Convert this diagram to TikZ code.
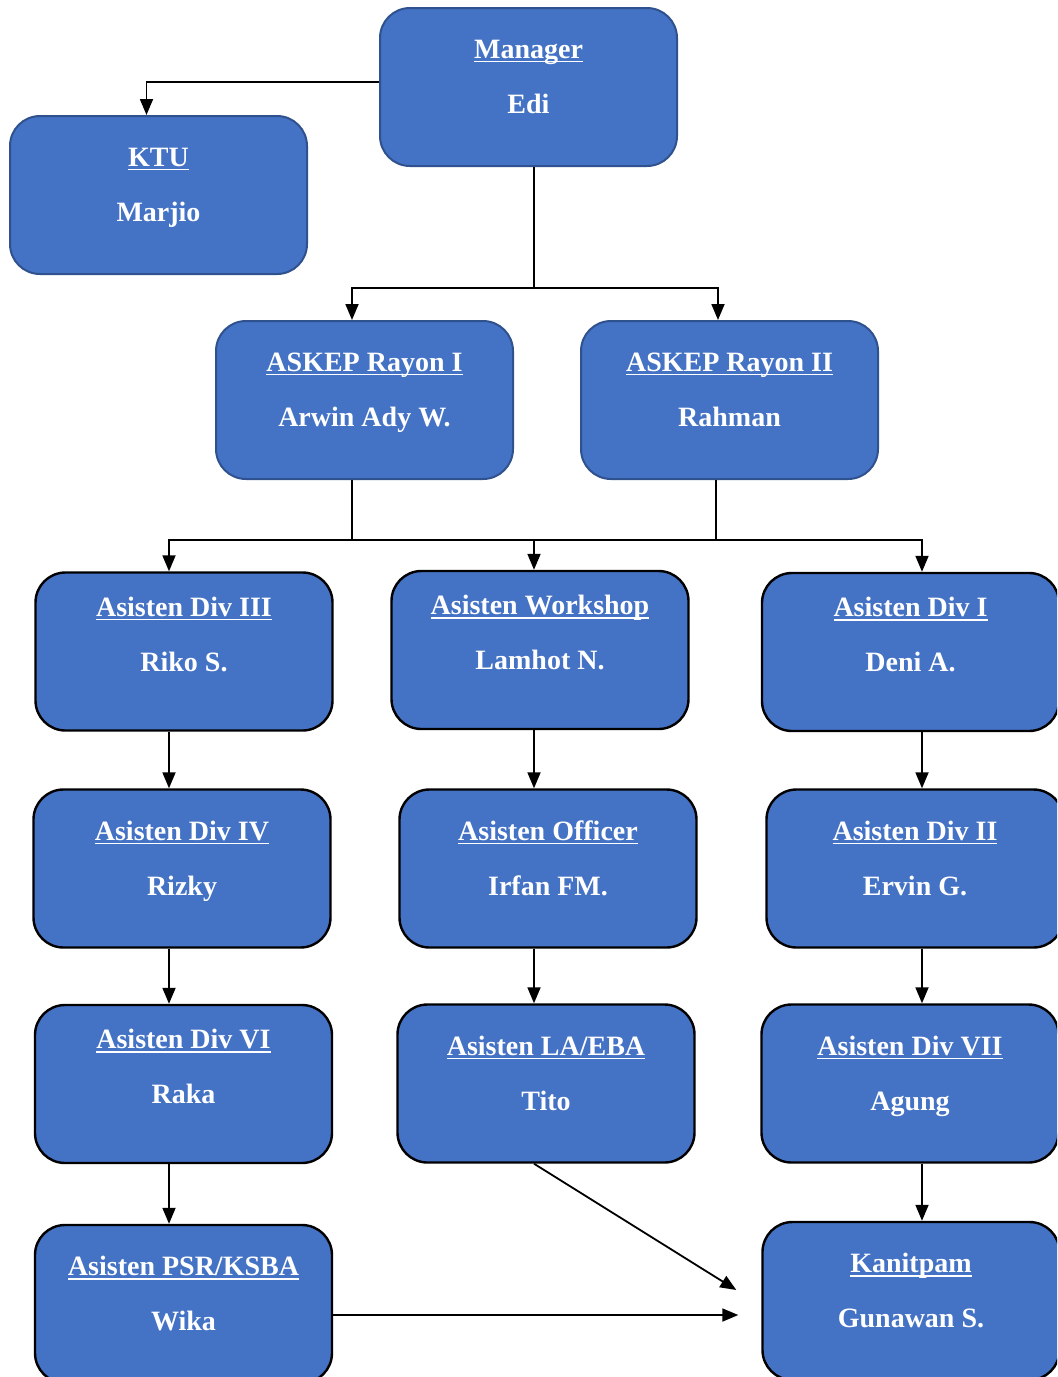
\documentclass[tikz,border=0pt]{standalone}
\usepackage{fontspec}
\setmainfont{Liberation Serif}
\usetikzlibrary{arrows.meta,positioning,calc}
\definecolor{boxblue}{HTML}{4472C4}
\definecolor{rimblue}{HTML}{2F528F}
\tikzset{
  unit/.style    = { draw=black, line width=1.2pt, fill=boxblue, rounded corners=15pt,
    minimum width=148.5pt, minimum height=79pt, inner sep=0pt },
  topunit/.style = { unit, draw=rimblue, line width=1pt },
  unittxt/.style = { text=white, align=center, yshift=5.25pt,
    font=\fontsize{14}{27.5}\selectfont\bfseries },
  raised/.style  = { yshift=3.5pt },% adds to the shift above
  ln/.style      = { line width=0.8pt },
  arr/.style     = { line width=0.9pt, -{Triangle[length=8pt,width=6.5pt]} }
}
% fixed underline, as in a word processor
\newcommand{\uln}[1]{\setbox0\hbox{#1}\rlap{\rule[-2pt]{\wd0}{0.7pt}}\box0}
% box + its two lines of text
\newcommand{\orgbox}[7][]{%
  \node[#2] (#3) at (#4,#5) {};
  \node[unittxt,#1] (#3-t) at (#3.center) {\uln{#6}\\\raisebox{0pt}[\height][0pt]{#7}};
}

\begin{document}
\begin{tikzpicture}[x=0.5pt,y=-0.5pt]
  \useasboundingbox (0,0) rectangle (1057,1377);
  \clip (0,0) rectangle (1057,1377);
  % top
  \orgbox{topunit}{mgr}{528.5}{87}{Manager}{Edi}
  \orgbox{topunit}{ktu}{158.5}{195}{KTU}{Marjio}
  \orgbox{topunit}{ask1}{364.5}{400}{ASKEP Rayon I}{Arwin Ady W.}
  \orgbox{topunit}{ask2}{729.5}{400}{ASKEP Rayon II}{Rahman}
  % left column
  \orgbox[raised]{unit}{div3}{184}{651.5}{Asisten Div III}{Riko S.}
  \orgbox{unit}{div4}{182}{868.5}{Asisten Div IV}{Rizky}
  \orgbox[raised]{unit}{div6}{183.5}{1084}{Asisten Div VI}{Raka}
  \orgbox{unit}{psr}{183.5}{1304}{Asisten PSR/KSBA}{Wika}
  % middle column
  \orgbox[raised]{unit}{wks}{540}{650}{Asisten Workshop}{Lamhot N.}
  \orgbox{unit}{off}{548}{868.5}{Asisten Officer}{Irfan FM.}
  \orgbox{unit}{laeba}{546}{1083.5}{Asisten LA/EBA}{Tito}
  % right column
  \orgbox[raised]{unit}{div1}{910.5}{652}{Asisten Div I}{Deni A.}
  \orgbox{unit}{div2}{915}{868.5}{Asisten Div II}{Ervin G.}
  \orgbox{unit}{div7}{910}{1083.5}{Asisten Div VII}{Agung}
  \orgbox{unit}{kan}{911}{1301}{Kanitpam}{Gunawan S.}

  % junctions
  \coordinate (hub1) at (534,288);
  \coordinate (hub2l) at (352,540);
  \coordinate (hub2r) at (716,540);
  \coordinate (hub2m) at ($(hub2l)!0.5!(hub2r)$);
  \coordinate (kin1) at ([xshift=-12.5pt,yshift=5.5pt]kan.west);
  \coordinate (kin2) at ([xshift=-11.5pt,yshift=-7pt]kan.west);

  \draw[arr] ([yshift=2.5pt]mgr.west) -| ([xshift=-6pt]ktu.north);
  \draw[ln] (mgr.south -| hub1) -- (hub1);
  \draw[arr] (hub1) -| ([xshift=-6.25pt]ask1.north);
  \draw[arr] (hub1) -| ([xshift=-5.75pt]ask2.north);
  \draw[ln] ([xshift=-6.25pt]ask1.south) -- (hub2l);
  \draw[ln] ([xshift=-6.75pt]ask2.south) -- (hub2r);
  \draw[ln] (hub2l) -- (hub2r);
  \draw[arr] (hub2l) -| ([xshift=-7.5pt]div3.north);
  \draw[arr] (hub2r) -| ([xshift=5.75pt]div1.north);
  \draw[arr] (hub2m) -- (hub2m |- wks.north);

  \draw[arr] ([xshift=-7.5pt]div3.south) -- ([xshift=-7.5pt]div3.south |- div4.north);
  \draw[arr] ([xshift=-7.5pt]div3.south |- div4.south) -- ([xshift=-7.5pt]div3.south |- div6.north);
  \draw[arr] ([xshift=-7.5pt]div3.south |- div6.south) -- ([xshift=-7.5pt]div3.south |- psr.north);
  \draw[arr] (hub2m |- wks.south) -- (hub2m |- off.north);
  \draw[arr] (hub2m |- off.south) -- (hub2m |- laeba.north);
  \draw[arr] ([xshift=5.75pt]div1.south) -- ([xshift=5.75pt]div1.south |- div2.north);
  \draw[arr] ([xshift=5.75pt]div1.south |- div2.south) -- ([xshift=5.75pt]div1.south |- div7.north);
  \draw[arr] ([xshift=5.75pt]div1.south |- div7.south) -- ([xshift=5.75pt]div1.south |- kan.north);

  \draw[arr] (hub2m |- laeba.south) -- (kin1);
  \draw[arr] (psr.east |- kin2) -- (kin2);
\end{tikzpicture}
\end{document}
